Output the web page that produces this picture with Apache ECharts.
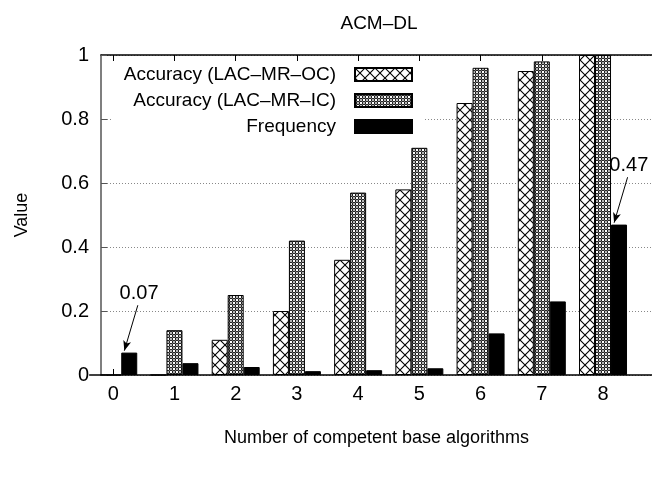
<!DOCTYPE html>
<html><head><meta charset="utf-8">
<script src="https://cdn.jsdelivr.net/npm/echarts@6/dist/echarts.min.js"></script>
<style>html,body{margin:0;padding:0;background:#fff}#c{width:652px;height:482px}</style>
</head><body><div id="c"></div>
<script>
const categories = [0, 1, 2, 3, 4, 5, 6, 7, 8];
const accuracyOC = [0, 0, 0.11, 0.20, 0.36, 0.58, 0.85, 0.95, 1.0];
const accuracyIC = [0, 0.14, 0.25, 0.42, 0.57, 0.71, 0.96, 0.98, 1.0];
const frequency = [0.07, 0.037, 0.025, 0.012, 0.015, 0.021, 0.13, 0.23, 0.47];
const yTicks = [0, 0.2, 0.4, 0.6, 0.8, 1];
const seriesNames = ['Accuracy (LAC–MR–OC)', 'Accuracy (LAC–MR–IC)', 'Frequency'];
const annotatedIdx = [0, 8];
const titleText = 'ACM–DL';
const xName = 'Number of competent base algorithms';
const yName = 'Value';

const FONT = '"Liberation Sans", Arial, Helvetica, sans-serif';

function makePattern(size, draw) {
  const c = document.createElement('canvas');
  c.width = size; c.height = size;
  const ctx = c.getContext('2d');
  ctx.fillStyle = '#fff'; ctx.fillRect(0, 0, size, size);
  draw(ctx, size);
  return c;
}
const patOC = makePattern(10, (ctx, s) => {
  ctx.strokeStyle = '#000'; ctx.lineWidth = 1.1;
  ctx.beginPath();
  ctx.moveTo(0, 0); ctx.lineTo(s, s);
  ctx.moveTo(s, 0); ctx.lineTo(0, s);
  ctx.stroke();
});
const patIC = makePattern(6, (ctx, s) => {
  ctx.strokeStyle = '#000'; ctx.lineWidth = 1.1;
  const pts = [[0,0],[s,0],[0,s],[s,s],[s/2,s/2]];
  pts.forEach(p => { ctx.beginPath(); ctx.arc(p[0], p[1], 1.5, 0, Math.PI*2); ctx.stroke(); });
});

const toPairs = arr => categories.map((c, i) => [c, arr[i]]);

// marker coords are relative to the Frequency bar centre (ECharts shifts markers onto the bar)
const arrowLines = annotatedIdx.map(i => [
  { coord: [categories[i] + 0.14, frequency[i] + 0.148], symbol: 'none' },
  { coord: [categories[i] - 0.08, frequency[i] + 0.006], symbol: 'arrow' }
]);
const arrowLabels = annotatedIdx.map(i => ({
  coord: [categories[i] + 0.16, frequency[i] + 0.185],
  name: frequency[i].toFixed(2)
}));

const chart = echarts.init(document.getElementById('c'), null, { renderer: 'canvas' });
chart.setOption({
  animation: false,
  backgroundColor: '#fff',
  textStyle: { fontFamily: FONT },
  title: {
    text: titleText, left: 374, top: 9, textAlign: 'center',
    textStyle: { fontFamily: FONT, fontSize: 19, fontWeight: 'normal', color: '#000' }
  },
  grid: { left: 101, right: -2, top: 55, bottom: 107 },
  legend: {
    orient: 'vertical', align: 'right', right: 229, top: 62,
    itemWidth: 57, itemHeight: 13, itemGap: 7, icon: 'rect',
    padding: [3, 10, 3, 11], backgroundColor: '#fff',
    textStyle: { fontFamily: FONT, fontSize: 19, color: '#000', lineHeight: 19, padding: [0, 14, 0, 0] },
    data: seriesNames
  },
  xAxis: [{
    type: 'value', min: -0.2, max: 8.8, position: 'bottom',
    name: xName, nameLocation: 'middle', nameGap: 54,
    nameTextStyle: { fontFamily: FONT, fontSize: 18, color: '#000' },
    axisLine: { show: true, onZero: false, lineStyle: { color: '#000', width: 1.5 } },
    axisTick: { show: true, inside: true, length: 6, customValues: categories, lineStyle: { color: '#000' } },
    axisLabel: { customValues: categories, fontSize: 20, margin: 9, color: '#000', fontFamily: FONT },
    splitLine: { show: false }
  }, {
    type: 'value', min: -0.2, max: 8.8, position: 'top',
    axisLine: { show: true, onZero: false, lineStyle: { color: '#000', width: 1.5 } },
    axisTick: { show: true, inside: true, length: 6, customValues: categories, lineStyle: { color: '#000' } },
    axisLabel: { show: false },
    splitLine: { show: false }
  }],
  yAxis: {
    type: 'value', min: 0, max: 1, interval: 0.2, position: 'left',
    name: yName, nameLocation: 'middle', nameGap: 70, nameRotate: 90,
    nameTextStyle: { fontFamily: FONT, fontSize: 18, color: '#000' },
    axisLine: { show: true, onZero: false, lineStyle: { color: '#555', width: 1.5 } },
    axisTick: { show: true, inside: true, length: 6, lineStyle: { color: '#555' } },
    axisLabel: { fontSize: 20, margin: 12, color: '#000', fontFamily: FONT },
    splitLine: { show: true, lineStyle: { color: '#888', type: [1, 2], width: 1 } }
  },
  series: [{
    name: seriesNames[0], type: 'bar', barWidth: 16, barGap: '0%',
    data: toPairs(accuracyOC),
    itemStyle: { color: { image: patOC, repeat: 'repeat' }, borderColor: '#000', borderWidth: 1 }
  }, {
    name: seriesNames[1], type: 'bar', barWidth: 16, barGap: '0%',
    data: toPairs(accuracyIC),
    itemStyle: { color: { image: patIC, repeat: 'repeat' }, borderColor: '#000', borderWidth: 1 }
  }, {
    name: seriesNames[2], type: 'bar', barWidth: 16, barGap: '0%',
    data: toPairs(frequency),
    itemStyle: { color: '#000', borderColor: '#000', borderWidth: 1 },
    markLine: {
      silent: true, symbolSize: [6, 10],
      lineStyle: { color: '#000', width: 1, type: 'solid' },
      label: { show: false },
      data: arrowLines
    },
    markPoint: {
      silent: true, symbol: 'circle', symbolSize: 0,
      label: { show: true, position: 'inside', formatter: p => p.name, fontSize: 20, color: '#000', fontFamily: FONT },
      data: arrowLabels
    }
  }]
});
</script>
</body></html>
